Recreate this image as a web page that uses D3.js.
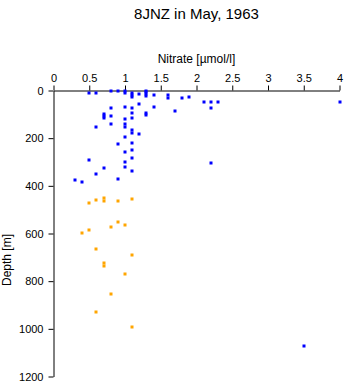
<!DOCTYPE html>
<html>
<head>
<meta charset="utf-8">
<script src="https://cdn.jsdelivr.net/npm/d3@7"></script>
<style>
  html, body { margin: 0; padding: 0; background: #fff; }
  svg { display: block; font-family: "Liberation Sans", Arial, Helvetica, sans-serif; }
</style>
</head>
<body>
<svg id="chart" width="345" height="384"></svg>
<script>
const title = "8JNZ in May, 1963";
const xLabel = "Nitrate [\u00b5mol/l]";
const yLabel = "Depth [m]";
const xTicks = [0, 0.5, 1, 1.5, 2, 2.5, 3, 3.5, 4];
const yTicks = [0, 200, 400, 600, 800, 1000, 1200];

// Upper samples (blue)
const blueNitrate = [0.5,0.6,0.8,0.9,1.0,1.0,1.1,1.1,1.1,1.2,1.3,1.3,1.3,1.3,1.4,1.6,1.6,1.8,1.9,2.1,2.2,2.3,2.2,4.0,
  1.2,1.4,0.8,1.0,1.1,1.7,0.7,0.7,0.7,0.8,1.1,1.3,1.3,1.1,1.0,0.8,1.0,1.0,0.6,1.1,1.1,1.2,1.0,0.9,1.1,1.1,1.0,1.1,
  0.5,1.0,2.2,0.7,1.0,1.1,0.6,0.9,0.3,0.4,3.5];
const blueDepth = [11,11,0,0,3,11,11,19,28,15,0,6,15,23,19,19,32,32,28,47,47,47,74,47,
  57,71,74,70,74,87,99,108,116,108,95,95,101,116,120,141,139,154,155,165,179,184,196,224,221,250,259,284,
  292,301,305,325,322,339,351,372,376,385,1070];

// Deeper samples (orange)
const orangeNitrate = [0.5,0.6,0.7,0.7,0.9,1.1,0.9,1.0,0.8,0.5,0.4,0.6,1.1,0.7,0.7,1.0,0.8,0.6,1.1];
const orangeDepth = [473,461,452,465,465,456,550,566,574,587,599,666,692,725,738,771,853,931,993];

const svg = d3.select("#chart");
const x = d3.scaleLinear().domain([0, 4]).range([53.5, 339.5]);
const y = d3.scaleLinear().domain([0, 1200]).range([90.5, 376.5]);

svg.append("text").attr("x", 196.5).attr("y", 19).attr("text-anchor", "middle")
  .attr("font-size", 15).attr("fill", "#000").text(title);

const xAxis = svg.append("g").attr("transform", `translate(0,${y(0)})`)
  .call(d3.axisTop(x).tickValues(xTicks).tickFormat(d => String(d)).tickSize(5).tickSizeOuter(0).tickPadding(4));
const yAxis = svg.append("g").attr("transform", `translate(${x(0)},0)`)
  .call(d3.axisLeft(y).tickValues(yTicks).tickFormat(d => String(d)).tickSize(5).tickSizeOuter(0).tickPadding(5));
[xAxis, yAxis].forEach(g => {
  g.selectAll("text").attr("font-size", 11).attr("fill", "#000").attr("font-family", "Liberation Sans, Arial, sans-serif");
  g.selectAll("path,line").attr("stroke", "#000");
});

svg.append("text").attr("x", 196.5).attr("y", 63).attr("text-anchor", "middle")
  .attr("font-size", 12).attr("fill", "#000").text(xLabel);
svg.append("text").attr("transform", "translate(11,260) rotate(-90)").attr("text-anchor", "middle")
  .attr("font-size", 12).attr("fill", "#000").text(yLabel);

function drawPoints(xs, ds, color) {
  svg.append("g").selectAll("rect").data(xs.map((v, i) => [v, ds[i]])).join("rect")
    .attr("x", d => Math.round(x(d[0])) - 1.5)
    .attr("y", d => Math.round(y(d[1])) - 1.5)
    .attr("width", 3).attr("height", 3)
    .attr("fill", color);
}
drawPoints(blueNitrate, blueDepth, "#0000ff");
drawPoints(orangeNitrate, orangeDepth, "#ffa500");
</script>
</body>
</html>
